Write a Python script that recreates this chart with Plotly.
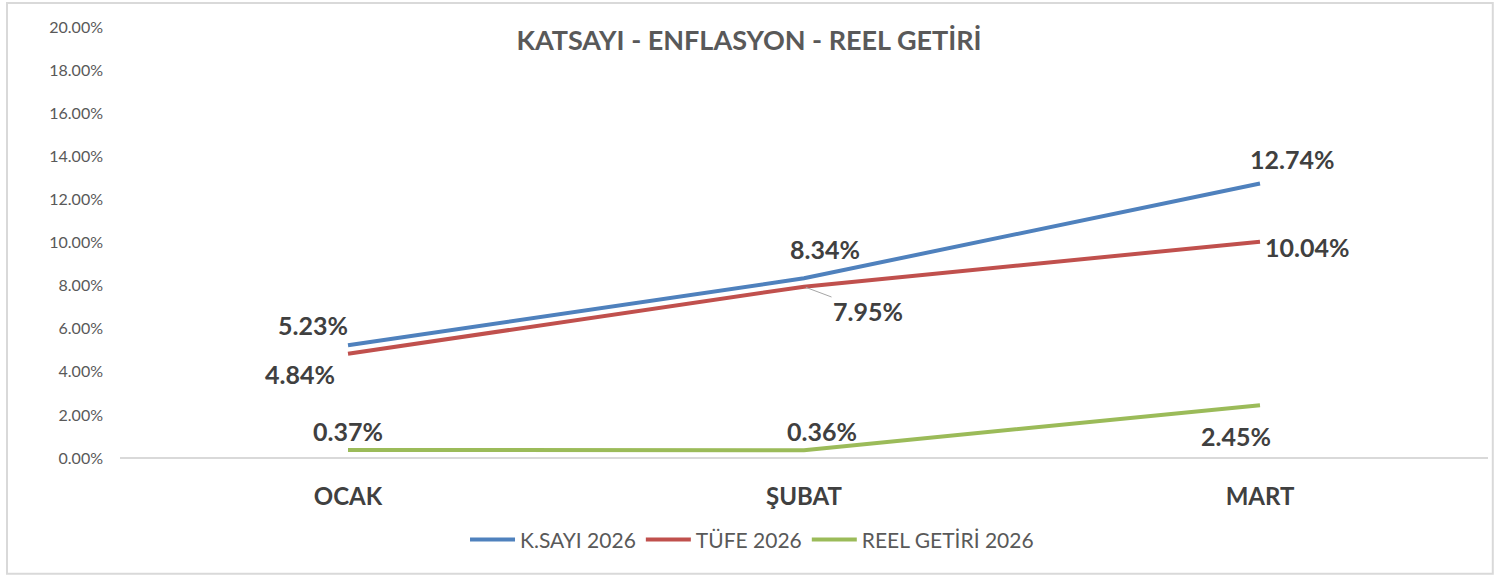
import plotly.graph_objects as go

categories = ["OCAK", "ŞUBAT", "MART"]
ksayi = [5.23, 8.34, 12.74]
tufe = [4.84, 7.95, 10.04]
reel = [0.37, 0.36, 2.45]
series_names = ["K.SAYI 2026", "TÜFE 2026", "REEL GETİRİ 2026"]
y_ticks = [0, 2, 4, 6, 8, 10, 12, 14, 16, 18, 20]
title_text = "KATSAYI - ENFLASYON - REEL GETİRİ"

colors = ["#4F81BD", "#C0504D", "#9BBB59"]
FONT = "Lato"

fig = go.Figure()
for name, vals, c in zip(series_names, [ksayi, tufe, reel], colors):
    fig.add_trace(go.Scatter(x=categories, y=vals, mode="lines", name=name,
                             line=dict(color=c, width=4), hoverinfo="skip"))

# label offsets (pixels) for each series/point
offsets = {
    0: [(-35, 20), (21, 29), (32, 24)],
    1: [(-48, -20), (0, 0), (47, -5)],
    2: [(0, 19), (18, 19), (-24, -31)],
}
for si, vals in enumerate([ksayi, tufe, reel]):
    for pi, v in enumerate(vals):
        dx, dy = offsets[si][pi]
        txt = f"{v:.2f}%"
        if si == 1 and pi == 1:
            fig.add_annotation(x=categories[pi], y=v, text=txt, showarrow=True,
                               ax=64, ay=24, arrowhead=0, arrowwidth=1,
                               arrowcolor="#A6A6A6", standoff=2, xanchor="center",
                               font=dict(family=FONT, size=25, color="#404040", weight="bold"))
        else:
            fig.add_annotation(x=categories[pi], y=v, text=txt, showarrow=False,
                               xshift=dx, yshift=dy,
                               font=dict(family=FONT, size=25, color="#404040", weight="bold"))

fig.add_shape(type="rect", xref="paper", yref="paper",
              x0=-0.0826, x1=1.0035, y0=-0.2685, y1=1.0557,
              line=dict(color="#D9D9D9", width=2), layer="below")

fig.update_layout(
    width=1498, height=577,
    margin=dict(l=120, r=10, t=27, b=119),
    paper_bgcolor="white", plot_bgcolor="white",
    title=dict(text=title_text, x=0.5, xref="container", y=1 - 41 / 577,
               yref="container", yanchor="middle", xanchor="center",
               font=dict(family=FONT, size=27, color="#595959", weight="bold")),
    showlegend=True,
    legend=dict(orientation="h", x=0.462, xanchor="center", y=-0.19, yanchor="middle",
                font=dict(family=FONT, size=21, color="#595959"),
                itemwidth=45, tracegroupgap=0),
    xaxis=dict(type="category", range=[-0.5, 2.5], showgrid=False, zeroline=False,
               showline=False, ticks="", ticklabelstandoff=22,
               tickfont=dict(family=FONT, size=24, color="#404040", weight="bold"),
               fixedrange=True),
    yaxis=dict(range=[0, 20], tickvals=y_ticks,
               ticktext=[f"{t:.2f}%" for t in y_ticks],
               showgrid=False, zeroline=True, zerolinecolor="#D9D9D9", zerolinewidth=2,
               showline=False, ticks="", ticklabelstandoff=16,
               tickfont=dict(family=FONT, size=16, color="#595959"), fixedrange=True),
)

fig.write_html("out.html")
